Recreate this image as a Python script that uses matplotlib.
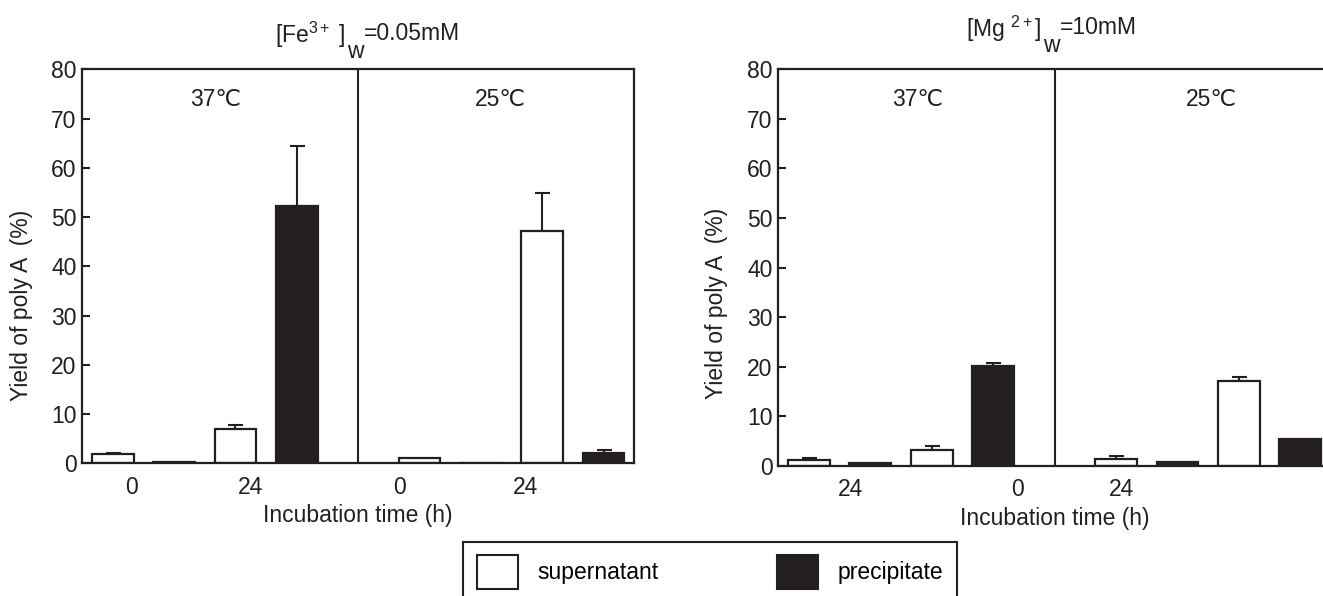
import matplotlib
matplotlib.use("Agg")
import matplotlib.pyplot as plt
from matplotlib.patches import Patch
from matplotlib.text import Annotation
import numpy as np

plt.rcParams['font.family'] = ['Liberation Sans', 'DejaVu Sans']
plt.rcParams['mathtext.fontset'] = 'custom'
plt.rcParams['mathtext.rm'] = 'Liberation Sans'
plt.rcParams['mathtext.it'] = 'Liberation Sans'

BLACK = '#231f20'

# bar slots: 0-3 at 37C, 5-8 at 25C (slot 4 holds the divider)
super_pos = [0, 2, 5, 7]
prec_pos = [1, 3, 6, 8]

# Fe3+ 0.05 mM
fe_super = [1.8, 7.0, 1.0, 47.1]
fe_super_err = [0.35, 0.7, 0.0, 7.8]
fe_prec = [0.35, 52.2, 0.0, 2.1]
fe_prec_err = [0.0, 12.3, 0.0, 0.6]
fe_ticks = [0.30, 2.24, 4.68, 6.73]
fe_ticklabels = ['0', '24', '0', '24']

# Mg2+ 10 mM
mg_super = [1.1, 3.2, 1.4, 17.0]
mg_super_err = [0.4, 0.8, 0.5, 1.0]
mg_prec = [0.45, 20.1, 0.8, 5.4]
mg_prec_err = [0.0, 0.7, 0.0, 0.0]
mg_ticks = [0.68, 3.40, 5.09]
mg_ticklabels = ['24', '0', '24']

FS = 16.5
W, H = 1323, 596

fig = plt.figure(figsize=(13.23, 5.96), dpi=100)
ax1 = fig.add_axes([0.0620, 0.2227, 0.4174, 0.6607])
ax2 = fig.add_axes([0.5881, 0.2186, 0.4180, 0.6651])


def draw(ax, sup, sup_err, prec, prec_err, ticks, ticklabels, temp_x, ylab_xy):
    w = 0.68
    ax.bar(super_pos, sup, width=w, color='white', edgecolor=BLACK, linewidth=1.6, zorder=2)
    ax.bar(prec_pos, prec, width=w, color=BLACK, edgecolor=BLACK, linewidth=1.6, zorder=2)
    for pos, v, e in zip(super_pos + prec_pos, sup + prec, sup_err + prec_err):
        if e > 0:
            ax.errorbar(pos, v, yerr=[[0], [e]], fmt='none', ecolor=BLACK,
                        elinewidth=1.5, capsize=5.4, capthick=1.5, zorder=1)
    ax.axvline(4, color=BLACK, linewidth=1.5)
    ax.set_xlim(-0.5, 8.5)
    ax.set_ylim(0, 80)
    ax.set_yticks(np.arange(0, 81, 10))
    ax.set_xticks(ticks)
    ax.set_xticklabels(ticklabels)
    ax.tick_params(axis='y', direction='in', length=6, width=1.5, labelsize=FS, pad=4, colors=BLACK)
    ax.tick_params(axis='x', length=0, labelsize=FS, pad=9, colors=BLACK)
    for s in ax.spines.values():
        s.set_linewidth(1.6)
        s.set_color(BLACK)
    ax.set_ylabel('Yield of poly A  (%)', fontsize=FS, color=BLACK)
    ax.yaxis.set_label_coords(*ylab_xy)
    ax.set_xlabel('Incubation time (h)', fontsize=FS, labelpad=4, color=BLACK)
    ax.text(temp_x[0], 74, '37\u2103', ha='center', va='center', fontsize=FS, color=BLACK)
    ax.text(temp_x[1], 74, '25\u2103', ha='center', va='center', fontsize=FS, color=BLACK)


def title(x_px, base_px, head, tail):
    t1 = fig.text(x_px / W, 1 - base_px / H, head, ha='left', va='baseline',
                  fontsize=FS, color=BLACK)
    t2 = fig.add_artist(Annotation('w', xy=(1, 0), xycoords=t1, xytext=(1, 7),
                                   textcoords='offset points', ha='left', va='top',
                                   fontsize=FS, color=BLACK))
    fig.add_artist(Annotation(tail, xy=(1, 1), xycoords=t2, xytext=(0, 0),
                              textcoords='offset points', ha='left', va='baseline',
                              fontsize=FS, color=BLACK))


draw(ax1, fe_super, fe_super_err, fe_prec, fe_prec_err, fe_ticks, fe_ticklabels,
     (1.67, 6.32), (-0.089, 0.402))
draw(ax2, mg_super, mg_super_err, mg_prec, mg_prec_err, mg_ticks, mg_ticklabels,
     (1.78, 6.56), (-0.090, 0.409))

title(275, 43, r'[Fe$^{3+}$ ]', '=0.05mM')
title(966, 37, r'[Mg $^{2+}$]', '=10mM')

handles = [Patch(facecolor='white', edgecolor=BLACK, linewidth=1.5, label='supernatant'),
           Patch(facecolor=BLACK, edgecolor=BLACK, linewidth=1.5, label='precipitate')]
leg = fig.legend(handles=handles, loc='upper left', bbox_to_anchor=(463 / W, 1 - 541.7 / H),
                 ncol=2, fontsize=FS, frameon=True, fancybox=False, framealpha=1,
                 handlelength=1.79, handleheight=1.85, handletextpad=0.87,
                 columnspacing=5.15, borderpad=0.6, borderaxespad=0)
leg.get_frame().set_edgecolor(BLACK)
leg.get_frame().set_linewidth(1.5)

fig.savefig('out.png', dpi=100)
